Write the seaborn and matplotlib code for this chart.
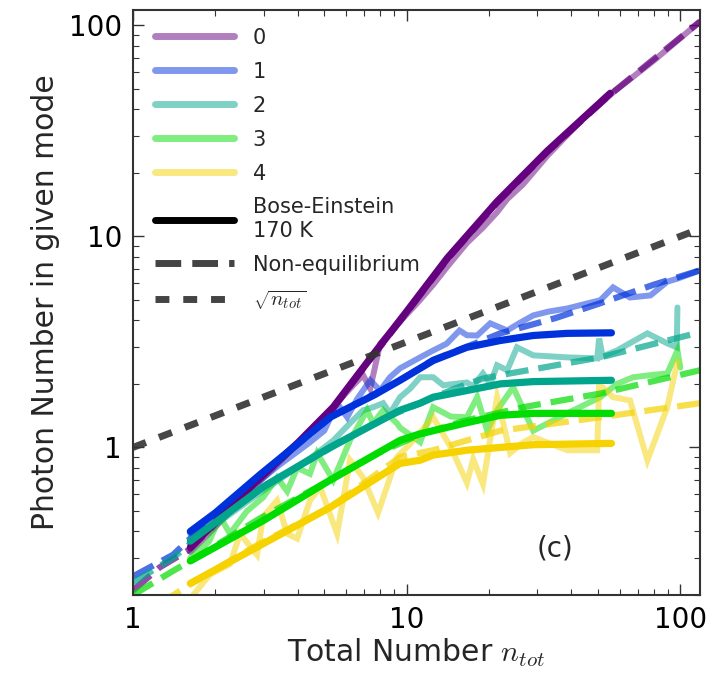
import numpy as np
import pandas as pd
import matplotlib
matplotlib.use("Agg")
import matplotlib.pyplot as plt
import seaborn as sns
from matplotlib.lines import Line2D

# ---------------- data ----------------
modes = ["0", "1", "2", "3", "4"]
dark_colors = ["#65007f", "#0032dc", "#00a58c", "#00dc00", "#f5d200"]

# measured photon numbers (light, noisy lines)
x_data0 = [1.62, 2.0, 2.6, 3.36, 4.43, 5.39, 6.21, 6.93, 7.36, 8.0, 8.69, 11.2, 12.5, 14.1, 16.6, 19.0, 21.4, 23.3, 26.6, 32.6, 43.1, 56.8, 80.0, 118.0]
y_data0 = [0.32, 0.42, 0.60, 0.83, 1.2, 1.55, 1.9, 2.2, 1.9, 3.1, 3.5, 5.0, 5.9, 7.2, 9.3, 11.0, 13.0, 15.0, 17.6, 24.0, 35.0, 48.0, 68.0, 104.0]

x_data1 = [1.62, 2.0, 2.6, 3.4, 4.4, 5.0, 5.57, 6.06, 6.6, 7.36, 8.0, 8.69, 9.46, 11.2, 12.5, 14.0, 15.6, 16.6, 18.1, 20.2, 23.3, 26.0, 29.0, 33.0, 38.6, 44.0, 51.0, 56.8, 65.5, 77.8, 89.6, 97.6, 118.0]
y_data1 = [0.39, 0.48, 0.62, 0.82, 1.05, 1.2, 1.62, 1.39, 1.7, 2.08, 1.86, 2.15, 2.37, 2.67, 2.88, 3.1, 3.58, 3.4, 3.39, 3.87, 3.58, 3.9, 4.22, 4.4, 4.55, 4.75, 4.98, 5.73, 5.13, 5.25, 6.1, 6.3, 6.9]

x_data2 = [1.62, 2.0, 2.6, 3.4, 4.4, 5.4, 6.2, 6.93, 7.54, 8.2, 8.69, 9.46, 10.3, 11.2, 12.5, 13.6, 15.0, 16.6, 17.5, 19.0, 20.2, 21.4, 23.3, 25.3, 29.0, 38.6, 49.7, 50.5, 52.0, 58.7, 75.8, 89.6, 97.0, 97.6]
y_data2 = [0.35, 0.43, 0.55, 0.70, 0.88, 1.08, 1.3, 1.5, 1.55, 1.62, 1.45, 1.73, 1.9, 2.15, 2.15, 1.97, 2.0, 2.03, 1.95, 2.24, 2.0, 2.45, 2.32, 2.98, 2.73, 2.67, 2.64, 3.28, 2.7, 2.88, 3.47, 3.11, 2.98, 4.6]

x_data3 = [1.62, 1.9, 2.08, 2.26, 2.61, 2.99, 3.36, 3.66, 3.98, 4.43, 4.71, 5.39, 6.21, 7.17, 7.54, 8.2, 9.22, 9.46, 11.2, 12.5, 14.5, 16.6, 18.1, 19.7, 21.4, 24.5, 29.0, 38.6, 51.0, 58.7, 67.2, 77.8, 89.6, 97.6, 100.0]
y_data3 = [0.30, 0.36, 0.47, 0.39, 0.50, 0.58, 0.72, 0.62, 0.80, 0.75, 0.94, 0.70, 1.08, 1.5, 1.3, 1.5, 1.3, 1.24, 1.06, 1.55, 1.4, 1.39, 1.73, 1.2, 1.5, 1.93, 1.2, 1.45, 1.73, 2.0, 2.15, 2.2, 2.24, 2.88, 2.39]

x_data4 = [1.66, 1.91, 2.26, 2.46, 2.84, 2.99, 3.36, 3.66, 3.98, 4.43, 4.83, 5.57, 6.21, 6.93, 7.86, 9.22, 10.3, 12.5, 14.5, 16.6, 17.5, 19.0, 21.4, 23.9, 26.5, 29.0, 38.6, 49.7, 50.5, 56.8, 65.5, 75.8, 89.6, 97.6]
y_data4 = [0.20, 0.25, 0.28, 0.39, 0.31, 0.47, 0.56, 0.39, 0.37, 0.56, 0.65, 0.39, 0.87, 0.72, 0.49, 0.9, 1.04, 1.39, 1.0, 0.68, 0.88, 0.67, 1.73, 0.94, 1.05, 1.12, 0.97, 0.97, 2.0, 1.73, 1.67, 0.87, 1.55, 2.55]

# Bose-Einstein 170 K (solid dark lines)
x_be0 = [1.62, 2.91, 4.0, 5.39, 7.54, 10.0, 14.1, 21.4, 32.6, 55.5]
y_be0 = [0.336, 0.72, 1.05, 1.55, 2.75, 4.4, 7.9, 14.6, 25.3, 47.6]
x_be1 = [1.62, 2.0, 2.9, 4.0, 5.25, 7.66, 9.46, 12.5, 16.6, 22.0, 29.0, 38.6, 56.0]
y_be1 = [0.40, 0.49, 0.74, 1.04, 1.39, 1.78, 2.08, 2.58, 2.98, 3.21, 3.39, 3.47, 3.49]
x_be2 = [1.62, 2.99, 5.25, 9.46, 11.2, 12.5, 16.6, 22.0, 29.0, 56.0]
y_be2 = [0.36, 0.65, 1.0, 1.50, 1.62, 1.73, 1.86, 2.0, 2.05, 2.08]
x_be3 = [1.62, 2.99, 5.25, 9.46, 11.2, 12.5, 16.6, 22.0, 29.0, 56.0]
y_be3 = [0.29, 0.45, 0.70, 1.08, 1.16, 1.20, 1.31, 1.42, 1.45, 1.45]
x_be4 = [1.62, 2.99, 5.25, 9.46, 11.2, 12.5, 16.6, 22.0, 29.0, 56.0]
y_be4 = [0.227, 0.35, 0.52, 0.84, 0.87, 0.92, 0.97, 1.0, 1.03, 1.045]

# Non-equilibrium model (dashed lines)
x_ne0 = [1.0, 1.25, 1.62, 2.91, 4.0, 5.39, 7.54, 10.0, 14.1, 21.4, 32.6, 55.5, 118.0]
y_ne0 = [0.21, 0.27, 0.33, 0.71, 1.04, 1.53, 2.72, 4.35, 7.8, 14.4, 25.0, 47.0, 104.0]
x_ne1 = [1.0, 1.4, 2.0, 2.9, 5.25, 7.66, 9.46, 12.5, 16.6, 22.0, 35.0, 51.0, 80.0, 118.0]
y_ne1 = [0.245, 0.31, 0.48, 0.74, 1.38, 1.8, 2.08, 2.6, 3.0, 3.47, 4.1, 4.82, 5.9, 6.9]
x_ne2 = [1.0, 1.4, 1.62, 2.9, 5.25, 8.0, 11.2, 15.0, 19.0, 23.8, 51.0, 118.0]
y_ne2 = [0.229, 0.30, 0.35, 0.64, 0.99, 1.35, 1.62, 1.9, 2.12, 2.24, 2.67, 3.51]
x_ne3 = [1.0, 1.4, 1.62, 2.9, 5.25, 8.0, 11.2, 16.0, 26.6, 51.0, 118.0]
y_ne3 = [0.20, 0.26, 0.29, 0.46, 0.70, 0.95, 1.15, 1.33, 1.55, 1.80, 2.32]
x_ne4 = [1.0, 1.49, 1.71, 2.9, 5.25, 9.46, 12.5, 22.0, 51.0, 118.0]
y_ne4 = [0.15, 0.21, 0.235, 0.35, 0.52, 0.9, 0.97, 1.2, 1.39, 1.62]

# sqrt(n_tot) reference line endpoints
x_sqrt = [1.0, 118.0]
y_sqrt = [1.0, 10.86]

data_x = [x_data0, x_data1, x_data2, x_data3, x_data4]
data_y = [y_data0, y_data1, y_data2, y_data3, y_data4]
be_x = [x_be0, x_be1, x_be2, x_be3, x_be4]
be_y = [y_be0, y_be1, y_be2, y_be3, y_be4]
ne_x = [x_ne0, x_ne1, x_ne2, x_ne3, x_ne4]
ne_y = [y_ne0, y_ne1, y_ne2, y_ne3, y_ne4]

# ---------------- style ----------------
sns.set_style("ticks")
plt.rcParams["font.family"] = ["DejaVu Sans"]
plt.rcParams["mathtext.fontset"] = "cm"

fig = plt.figure(figsize=(7.17, 6.73), dpi=100)
ax = fig.add_axes([133 / 717, 78 / 673, 567 / 717, 585 / 673])
ax.set_xscale("log")
ax.set_yscale("log")

def draw(x, y, **kw):
    df = pd.DataFrame({"x": x, "y": y})
    sns.lineplot(data=df, x="x", y="y", estimator=None, sort=False,
                 legend=False, ax=ax, **kw)
    return ax.lines[-1]

for i in range(5):
    draw(data_x[i], data_y[i], color=dark_colors[i], alpha=0.5, lw=4.3,
         solid_joinstyle="miter")
for i in range(5):
    draw(ne_x[i], ne_y[i], color=dark_colors[i], alpha=0.7, lw=4.5,
         linestyle="--")
for i in range(5):
    draw(be_x[i], be_y[i], color=dark_colors[i], lw=5.2,
         solid_capstyle="round")
sq = draw(x_sqrt, y_sqrt, color="#333333", alpha=0.9, lw=5.0, linestyle="--")
sq.set_dashes((2, 2))

ax.set_xlim(1, 118)
ax.set_ylim(0.2, 118)

ax.tick_params(which="both", direction="in", top=True, right=True,
               colors="#333333", labelcolor="black")
ax.tick_params(which="major", length=8, width=1.0, labelsize=20, pad=8)
ax.tick_params(which="minor", length=4, width=0.8)
ax.xaxis.set_major_formatter(matplotlib.ticker.FuncFormatter(lambda v, p: f"{v:g}"))
ax.yaxis.set_major_formatter(matplotlib.ticker.FuncFormatter(lambda v, p: f"{v:g}"))
ax.yaxis.set_minor_formatter(matplotlib.ticker.NullFormatter())
ax.xaxis.set_minor_formatter(matplotlib.ticker.NullFormatter())
for s in ax.spines.values():
    s.set_color("#333333")
    s.set_linewidth(1.5)

ax.set_xlabel("Total Number $n_{tot}$", fontsize=21.5, labelpad=2)
ax.set_ylabel("Photon Number in given mode", fontsize=21.5, labelpad=6)
ax.text(0.744, 0.08, "(c)", transform=ax.transAxes, fontsize=20,
        ha="center", va="center")

handles = [Line2D([], [], color=c, alpha=0.5, lw=5) for c in dark_colors]
handles.append(Line2D([], [], color="black", lw=5))
handles.append(Line2D([], [], color="#444444", lw=5, linestyle="--"))
h_sq = Line2D([], [], color="#444444", lw=5, linestyle="--")
h_sq.set_dashes((2, 2))
handles.append(h_sq)
labels = modes + ["Bose-Einstein\n170 K", "Non-equilibrium", r"$\sqrt{n_{tot}}$"]
ax.legend(handles, labels, loc="upper left", bbox_to_anchor=(0.024, 0.984),
          frameon=False, fontsize=15, handlelength=3.8, labelspacing=0.67,
          handletextpad=0.9, borderaxespad=0.0, borderpad=0.4)

fig.savefig("out.png", dpi=100)
